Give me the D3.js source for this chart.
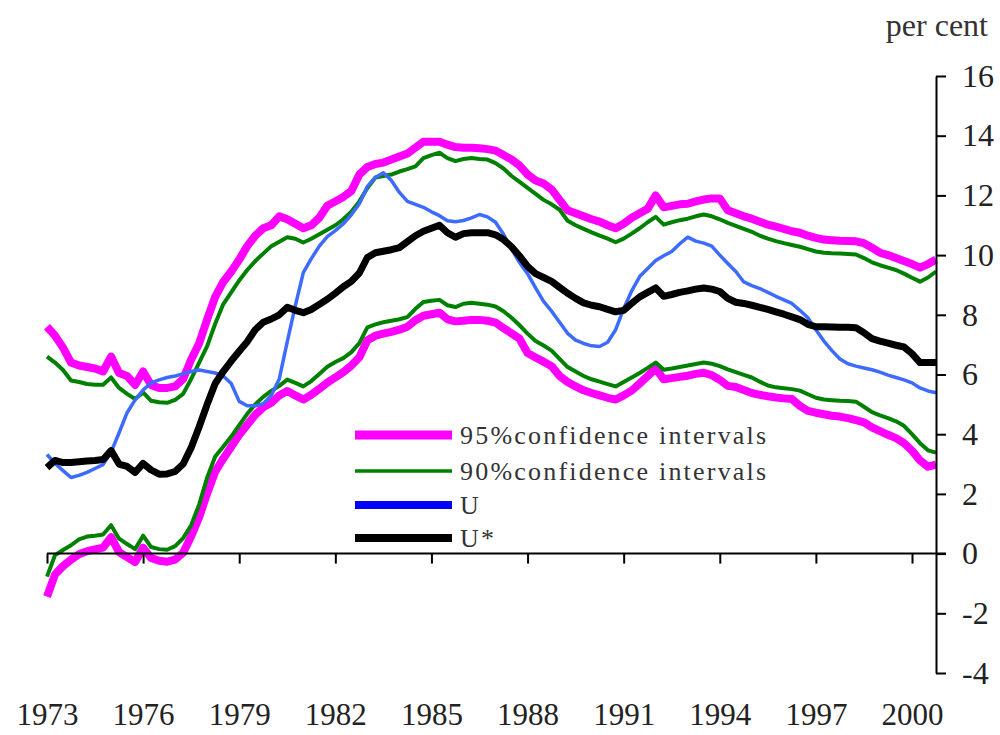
<!doctype html>
<html>
<head>
<meta charset="utf-8">
<title>U and U* with confidence intervals</title>
<script src="https://cdn.jsdelivr.net/npm/d3@7"></script>
<style>
  body { margin: 0; background: #fff; }
  svg { display: block; }
</style>
</head>
<body>
<svg id="chart" width="1000" height="735"></svg>
<script>
// quarterly observations, 1973Q1 .. 2000Q4
const years = d3.range(112).map((i) => 1973 + i / 4);

const upper95 = [
  7.6, 7.3, 6.9, 6.4,      // 1973
  6.3, 6.25, 6.2, 6.1,
  6.6, 6.05, 5.95, 5.65,   // 1975
  6.1, 5.65, 5.55, 5.55,
  5.6, 5.85, 6.5, 7.05,
  7.85, 8.6, 9.1, 9.45,
  9.85, 10.3, 10.65, 10.9, // 1979
  11.0, 11.3, 11.2, 11.05,
  10.9, 11.0, 11.25, 11.65,
  11.8, 11.95, 12.15, 12.7,
  12.95, 13.05, 13.1, 13.2,
  13.3, 13.4, 13.6, 13.8,
  13.8, 13.8, 13.7, 13.62, // 1985
  13.6, 13.6, 13.58, 13.55,
  13.5, 13.35, 13.2, 13.0,
  12.7, 12.5, 12.4, 12.2,
  11.85, 11.5, 11.4, 11.3,
  11.2, 11.12, 11.0, 10.9,
  11.05, 11.25, 11.4, 11.55, // 1991
  12.0, 11.6, 11.65, 11.7,
  11.72, 11.8, 11.86, 11.9,
  11.9, 11.5, 11.4, 11.3,
  11.22, 11.12, 11.02, 10.95,
  10.88, 10.8, 10.75, 10.65,
  10.58, 10.52, 10.5, 10.48, // 1997
  10.47, 10.46, 10.4, 10.25,
  10.08, 10.0, 9.9, 9.8,
  9.7, 9.58, 9.7, 9.85
];

const upper90 = [
  6.6, 6.4, 6.15, 5.8,
  5.75, 5.68, 5.66, 5.66,
  5.9, 5.55, 5.35, 5.18,
  5.4, 5.12, 5.07, 5.05,
  5.15, 5.35, 5.85, 6.4,
  6.95, 7.7, 8.35, 8.75,
  9.15, 9.5, 9.8, 10.05,
  10.3, 10.45, 10.6, 10.55,
  10.42, 10.55, 10.7, 10.85,
  11.0, 11.2, 11.45, 11.8,
  12.25, 12.6, 12.65, 12.7,
  12.8, 12.88, 12.97, 13.25,
  13.35, 13.43, 13.25, 13.15,
  13.22, 13.25, 13.22, 13.2,
  13.08, 12.9, 12.65, 12.45,
  12.25, 12.05, 11.85, 11.7,
  11.52, 11.15, 11.0, 10.88,
  10.76, 10.65, 10.55, 10.43,
  10.55, 10.72, 10.9, 11.1,
  11.28, 11.02, 11.1, 11.17,
  11.22, 11.3, 11.36, 11.3,
  11.2, 11.08, 10.98, 10.88,
  10.78, 10.65, 10.55, 10.47,
  10.4, 10.34, 10.28, 10.2,
  10.12, 10.08, 10.06, 10.05,
  10.04, 10.02, 9.9, 9.76,
  9.66, 9.58, 9.5, 9.38,
  9.24, 9.11, 9.25, 9.45
];

const unemployment = [
  3.32, 3.02, 2.78, 2.55,
  2.62, 2.72, 2.85, 2.98,
  3.4, 4.05, 4.72, 5.15,
  5.48, 5.72, 5.82, 5.9,
  5.95, 6.02, 6.1, 6.15,
  6.1, 6.05, 5.95, 5.7,
  5.1, 4.95, 4.95, 5.02,
  5.3, 5.85, 7.1, 8.3,
  9.41, 9.88, 10.3, 10.62,
  10.82, 11.05, 11.35, 11.72,
  12.3, 12.6, 12.76, 12.5,
  12.1, 11.8, 11.7, 11.6,
  11.45, 11.32, 11.15, 11.12,
  11.16, 11.25, 11.36, 11.28,
  11.1, 10.7, 10.2, 9.75,
  9.38, 8.9, 8.45, 8.12,
  7.75, 7.38, 7.15, 7.04,
  6.96, 6.94, 7.08, 7.5,
  8.2, 8.8, 9.28, 9.55,
  9.82, 9.98, 10.12, 10.38,
  10.6, 10.47, 10.4, 10.3,
  10.0, 9.72, 9.45, 9.1,
  8.98, 8.88, 8.75, 8.62,
  8.5, 8.38, 8.15, 7.9,
  7.5, 7.12, 6.8, 6.52,
  6.36, 6.28, 6.22, 6.16,
  6.08, 5.98, 5.9, 5.82,
  5.72, 5.55, 5.45, 5.39
];

const nairu = [
  2.88, 3.12, 3.05, 3.05,
  3.08, 3.1, 3.12, 3.15,
  3.45, 3.0, 2.92, 2.72,
  3.02, 2.8, 2.66, 2.67,
  2.75, 3.0, 3.55, 4.25,
  5.0, 5.7, 6.1, 6.45,
  6.78, 7.1, 7.5, 7.75,
  7.86, 8.0, 8.25, 8.15,
  8.07, 8.18, 8.35, 8.52,
  8.72, 8.94, 9.12, 9.4,
  9.92, 10.08, 10.13, 10.18,
  10.25, 10.45, 10.65, 10.8,
  10.9, 11.0, 10.75, 10.6,
  10.72, 10.75, 10.75, 10.75,
  10.68, 10.52, 10.28, 9.97,
  9.62, 9.38, 9.25, 9.12,
  8.92, 8.72, 8.55, 8.4,
  8.32, 8.27, 8.18, 8.1,
  8.15, 8.38, 8.6, 8.75,
  8.9, 8.62, 8.68, 8.75,
  8.8, 8.86, 8.9, 8.86,
  8.78, 8.55, 8.42, 8.38,
  8.32, 8.25, 8.18, 8.1,
  8.02, 7.93, 7.84, 7.68,
  7.6, 7.6, 7.59, 7.58,
  7.58, 7.57, 7.4, 7.2,
  7.12, 7.05, 6.98, 6.92,
  6.7, 6.4, 6.4, 6.4
];

const lower90 = [
  -0.77, -0.05, 0.12, 0.28,
  0.48, 0.57, 0.6, 0.64,
  0.95, 0.5, 0.32, 0.15,
  0.6, 0.22, 0.15, 0.13,
  0.25, 0.52, 0.95, 1.65,
  2.55, 3.25, 3.58, 3.92,
  4.3, 4.68, 5.0, 5.25,
  5.45, 5.62, 5.83, 5.72,
  5.6, 5.78, 6.02, 6.26,
  6.42, 6.55, 6.75, 7.05,
  7.58, 7.68, 7.75, 7.8,
  7.85, 7.92, 8.2, 8.43,
  8.47, 8.5, 8.32, 8.26,
  8.37, 8.4, 8.37, 8.34,
  8.28, 8.12, 7.9, 7.65,
  7.37, 7.12, 6.97, 6.8,
  6.52, 6.25, 6.1, 5.95,
  5.84, 5.76, 5.68, 5.6,
  5.75, 5.9, 6.05, 6.22,
  6.4, 6.16, 6.2, 6.25,
  6.3, 6.35, 6.4, 6.36,
  6.28, 6.17, 6.08, 5.99,
  5.9, 5.76, 5.63, 5.57,
  5.54, 5.51, 5.46, 5.34,
  5.22, 5.16, 5.14, 5.12,
  5.11, 5.09, 4.92, 4.74,
  4.63, 4.54, 4.43, 4.28,
  4.0, 3.7, 3.46, 3.38
];

const lower95 = [
  -1.44, -0.7, -0.42, -0.2,
  -0.02, 0.08, 0.14, 0.2,
  0.55, 0.05, -0.12, -0.28,
  0.2, -0.15, -0.24, -0.27,
  -0.2, 0.03, 0.58, 1.22,
  2.02, 2.75, 3.18, 3.58,
  3.98, 4.32, 4.65, 4.9,
  5.05, 5.3, 5.45, 5.3,
  5.16, 5.32, 5.52, 5.73,
  5.9, 6.08, 6.3, 6.58,
  7.15, 7.3, 7.37, 7.43,
  7.5, 7.6, 7.82, 7.97,
  8.02, 8.07, 7.85, 7.78,
  7.8, 7.83, 7.83, 7.8,
  7.74, 7.55, 7.38, 7.2,
  6.72, 6.57, 6.43, 6.28,
  5.95, 5.75, 5.6, 5.47,
  5.38, 5.3, 5.22, 5.16,
  5.3, 5.46, 5.7, 5.95,
  6.2, 5.84, 5.88, 5.92,
  5.96, 6.02, 6.06, 5.98,
  5.82, 5.62, 5.58, 5.48,
  5.38, 5.32, 5.27, 5.23,
  5.2, 5.18, 4.95, 4.78,
  4.72, 4.67, 4.62, 4.59,
  4.54, 4.47, 4.4, 4.23,
  4.1, 3.98, 3.87, 3.7,
  3.45, 3.12, 2.91, 2.98
];

const yearTicks = d3.range(1973, 2001, 3);
const valueTicks = d3.range(-4, 17, 2);

const font = '"Liberation Serif", "Times New Roman", serif';
const svg = d3.select("#chart");

const x = d3.scaleLinear().domain([1973, 2000]).range([47, 912]);
const y = d3.scaleLinear().domain([-4, 16]).range([673, 76]);
const axisX = 936;

const line = (values) => d3.line()
    .x((d, i) => x(years[i]))
    .y((d) => y(d))(values);

const series = [
  {values: upper95, color: "#ff00ff", width: 8},
  {values: lower95, color: "#ff00ff", width: 8},
  {values: upper90, color: "#008000", width: 4},
  {values: lower90, color: "#008000", width: 4},
  {values: unemployment, color: "#3d6bff", width: 3.5},
  {values: nairu, color: "#000", width: 7}
];

svg.append("g")
    .attr("fill", "none")
    .attr("stroke-linejoin", "round")
  .selectAll("path")
  .data(series)
  .join("path")
    .attr("stroke", (d) => d.color)
    .attr("stroke-width", (d) => d.width)
    .attr("d", (d) => line(d.values));

// x axis sits on the zero line
const gx = svg.append("g")
    .attr("transform", `translate(0,${y(0)})`)
    .call(d3.axisBottom(x).tickValues(yearTicks).tickFormat((d) => String(d))
      .tickSize(10).tickSizeOuter(0).tickPadding(139));
gx.select(".domain").remove();
gx.append("line")
    .attr("x1", x(1973)).attr("x2", axisX + 10)
    .attr("stroke", "#000").attr("stroke-width", 2);
gx.selectAll(".tick line").attr("stroke-width", 2);
gx.selectAll("text")
    .attr("font-family", font).attr("font-size", 31).attr("fill", "#222");

// plain hyphen for negatives, as in the original
const gy = svg.append("g")
    .attr("transform", `translate(${axisX},0)`)
    .call(d3.axisRight(y).tickValues(valueTicks).tickFormat((d) => String(d))
      .tickSize(10).tickSizeOuter(0).tickPadding(16));
gy.select(".domain").attr("stroke-width", 2);
gy.selectAll(".tick line").attr("stroke-width", 2);
gy.selectAll("text")
    .attr("font-family", font).attr("font-size", 32).attr("fill", "#222");

svg.append("text")
    .attr("x", 988).attr("y", 36)
    .attr("text-anchor", "end")
    .attr("font-family", font).attr("font-size", 32).attr("fill", "#333")
    .text("per cent");

// legend
const legend = [
  {label: "95%confidence intervals", color: "#ff00ff", width: 9, y: 435},
  {label: "90%confidence intervals", color: "#008000", width: 3.5, y: 471},
  {label: "U", color: "#0000ff", width: 8, y: 505},
  {label: "U*", color: "#000", width: 8, y: 538}
];

const lg = svg.append("g");
lg.selectAll("line")
  .data(legend)
  .join("line")
    .attr("x1", 355).attr("x2", 452)
    .attr("y1", (d) => d.y).attr("y2", (d) => d.y)
    .attr("stroke", (d) => d.color)
    .attr("stroke-width", (d) => d.width);
lg.selectAll("text")
  .data(legend)
  .join("text")
    .attr("x", 460)
    .attr("y", (d) => d.y + 9)
    .attr("font-family", font).attr("font-size", 26).attr("fill", "#333")
    .attr("letter-spacing", 2.2)
    .text((d) => d.label);
</script>
</body>
</html>
